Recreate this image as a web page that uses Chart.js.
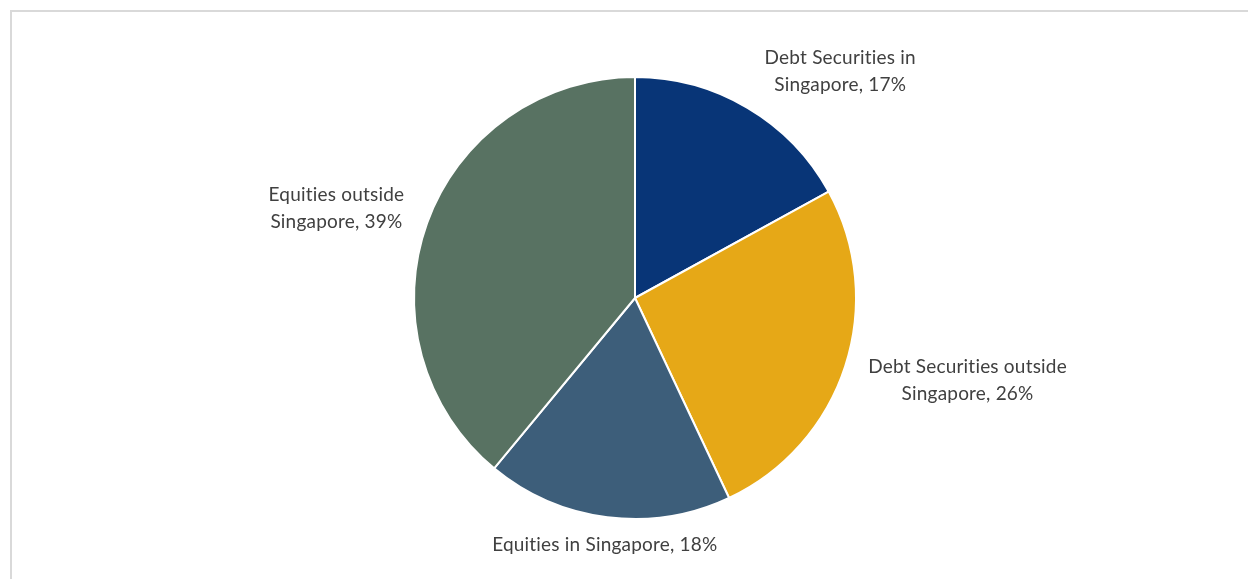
<!DOCTYPE html>
<html>
<head>
<meta charset="utf-8">
<script src="https://cdn.jsdelivr.net/npm/chart.js@4.4.0/dist/chart.umd.min.js"></script>
<style>
  html, body { margin: 0; padding: 0; background: #fff; overflow: hidden; }
  #frame {
    position: absolute; left: 10px; top: 10px;
    width: 1300px; height: 700px;
    border: 2px solid #d9d9d9;
  }
  #wrap { position: absolute; left: 0; top: 0; width: 1248px; height: 579px; }
</style>
</head>
<body>
<div id="frame"></div>
<div id="wrap"><canvas id="myChart"></canvas></div>
<script>
const categories = [
  'Debt Securities in Singapore',
  'Debt Securities outside Singapore',
  'Equities in Singapore',
  'Equities outside Singapore'
];
const values = [17, 26, 18, 39];
const labelLines = [
  ['Debt Securities in', 'Singapore, 17%'],
  ['Debt Securities outside', 'Singapore, 26%'],
  ['Equities in Singapore, 18%'],
  ['Equities outside', 'Singapore, 39%']
];
const colors = ['#083577', '#E6A817', '#3D5E7A', '#587262'];

// outside-end labels: text box sits just outside the slice, lines centred in the box
const outsideLabels = {
  id: 'outsideLabels',
  afterDatasetsDraw(chart) {
    const ctx = chart.ctx;
    const meta = chart.getDatasetMeta(0);
    ctx.save();
    ctx.font = '19px Lato';
    ctx.letterSpacing = '0.2px';
    ctx.fillStyle = '#404040';
    ctx.textAlign = 'center';
    ctx.textBaseline = 'middle';
    const lineH = 27;
    meta.data.forEach((arc, i) => {
      const p = arc.getProps(['x', 'y', 'startAngle', 'endAngle', 'outerRadius'], true);
      const mid = (p.startAngle + p.endAngle) / 2;
      const c = Math.cos(mid), s = Math.sin(mid);
      const r = p.outerRadius + (s < -0.5 ? 12 : 20);
      const ax = p.x + c * r;
      const ay = p.y + s * r;
      const lines = labelLines[i];
      const w = Math.max(...lines.map(l => ctx.measureText(l).width));
      const h = lines.length * lineH;
      let left;
      if (c > 0.3) left = ax + (s < -0.5 ? 11 : 4);
      else if (c < -0.3) left = ax - w - 4;
      else left = ax - w / 2;
      let top;
      if (s < -0.5) top = ay - h + 1;
      else if (s > 0.5) top = ay - 6;
      else top = ay - h / 2 + s * 25;
      lines.forEach((ln, k) => {
        ctx.fillText(ln, left + w / 2, top + lineH * k + lineH / 2);
      });
    });
    ctx.restore();
  }
};

const ctx = document.getElementById('myChart').getContext('2d');
new Chart(ctx, {
  type: 'pie',
  data: {
    labels: categories,
    datasets: [{
      data: values,
      backgroundColor: colors,
      borderColor: '#ffffff',
      borderWidth: 2
    }]
  },
  options: {
    responsive: true,
    maintainAspectRatio: false,
    animation: false,
    layout: { padding: { top: 76, bottom: 59, left: 300, right: 278 } },
    plugins: {
      legend: { display: false },
      tooltip: { enabled: false }
    }
  },
  plugins: [outsideLabels]
});
</script>
</body>
</html>
